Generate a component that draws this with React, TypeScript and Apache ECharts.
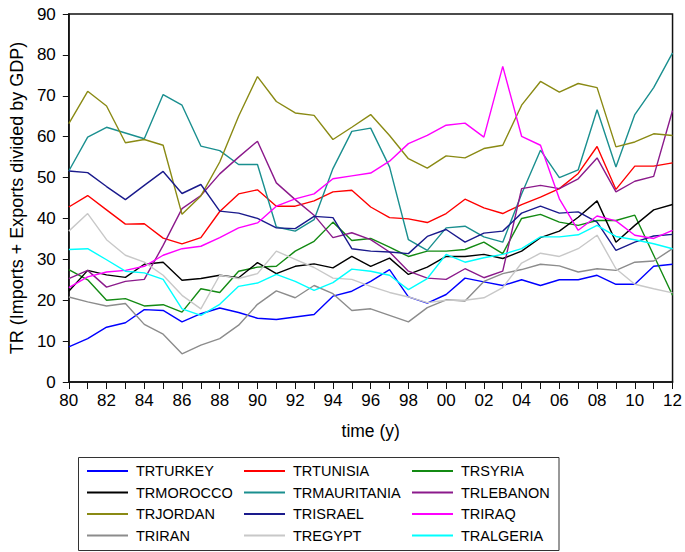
import React, { useEffect, useRef } from "react";
import * as echarts from "echarts";

const years = [
  "80","81","82","83","84","85","86","87","88","89","90","91","92","93","94","95","96","97","98","99",
  "00","01","02","03","04","05","06","07","08","09","10","11","12",
];

const trTurkey = [8.6,10.6,13.4,14.5,17.7,17.5,14.7,16.7,18.1,17.0,15.6,15.3,15.9,16.5,21.0,22.2,24.6,27.5,20.8,19.3,21.4,25.4,24.5,23.6,25.0,23.6,25.0,25.0,26.1,23.9,23.9,28.3,28.8];
const trTunisia = [42.8,45.6,42.1,38.6,38.7,35.2,33.8,35.3,41.7,46.0,47.0,43.0,43.0,44.3,46.5,46.9,42.8,40.2,39.9,39.0,41.2,44.7,42.6,41.2,43.4,45.2,47.3,51.0,57.6,47.1,52.8,52.8,53.6];
const trSyria = [27.5,25.0,20.0,20.4,18.6,18.9,17.1,22.8,21.9,27.1,28.1,28.3,32.0,34.4,39.1,34.6,35.1,33.0,30.7,32.0,32.0,32.4,34.2,31.4,40.0,41.0,39.1,38.3,39.5,39.5,40.8,31.0,21.2];
const trMorocco = [22.2,27.3,26.2,25.6,28.8,29.3,24.9,25.3,26.1,25.5,29.2,26.5,28.3,28.9,27.9,30.7,28.3,30.3,26.3,28.1,30.7,30.7,31.2,30.2,32.0,35.3,36.9,40.3,44.3,34.2,38.3,42.1,43.4];
const trMauritania = [51.6,59.9,62.3,60.9,59.5,70.3,67.7,57.7,56.6,53.2,53.2,37.9,36.9,39.7,52.2,61.3,62.1,52.6,34.8,32.2,37.7,38.1,35.5,34.2,46.0,56.7,50.0,51.9,66.6,52.6,65.4,72.0,80.5];
const trLebanon = [25.3,27.3,23.2,24.6,25.1,33.4,42.4,45.6,50.9,55.0,58.9,48.7,44.6,40.8,35.3,36.5,34.8,31.8,27.1,25.4,25.1,27.7,25.5,27.1,47.3,48.1,47.3,49.7,54.8,46.5,49.1,50.3,66.4];
const trJordan = [63.2,71.1,67.5,58.5,59.3,57.9,41.0,45.5,53.8,65.0,74.7,68.6,65.8,65.2,59.3,62.3,65.4,60.3,54.6,52.3,55.3,54.8,57.1,57.9,67.7,73.5,70.9,73.0,72.0,57.5,58.7,60.7,60.3];
const trIsrael = [51.6,51.2,47.8,44.6,48.1,51.5,46.1,48.3,41.8,41.3,40.0,37.7,37.5,40.5,40.2,32.6,32.0,31.8,31.4,35.6,37.3,34.2,36.4,36.9,41.3,43.0,41.3,41.6,39.1,32.2,34.2,35.7,36.1];
const trIraq = [23.1,25.7,26.9,27.3,28.3,31.0,32.6,33.2,35.3,37.7,38.9,43.0,44.8,46.0,49.7,50.4,51.1,54.0,58.3,60.3,62.8,63.3,59.9,77.2,60.1,57.9,44.8,37.1,40.6,39.4,35.9,35.1,37.1];
const trIran = [20.8,19.6,18.6,19.2,14.1,11.7,6.9,9.0,10.6,13.9,19.0,22.3,20.6,23.6,21.6,17.5,17.9,16.3,14.7,18.2,20.1,19.8,24.6,26.5,27.5,28.8,28.4,26.9,27.7,27.3,29.3,29.6,32.6];
const trEgypt = [36.9,41.2,34.8,31.0,29.3,26.1,21.2,17.9,26.1,25.3,26.5,32.0,30.0,28.0,25.4,25.1,23.4,21.9,20.8,19.4,20.0,20.0,20.6,23.1,29.1,31.5,30.7,32.6,35.9,27.7,23.9,22.8,21.8];
const trAlgeria = [32.4,32.6,29.9,27.1,26.7,25.1,17.9,16.3,19.0,23.4,24.2,26.3,24.6,22.4,24.3,27.6,27.1,26.1,22.6,25.3,31.2,29.3,30.4,31.2,32.6,35.5,35.5,36.0,38.3,35.6,34.8,33.8,32.6];

const seriesNames = [
  "TRTURKEY","TRTUNISIA","TRSYRIA","TRMOROCCO","TRMAURITANIA","TRLEBANON",
  "TRJORDAN","TRISRAEL","TRIRAQ","TRIRAN","TREGYPT","TRALGERIA",
];
const seriesData = [
  trTurkey, trTunisia, trSyria, trMorocco, trMauritania, trLebanon,
  trJordan, trIsrael, trIraq, trIran, trEgypt, trAlgeria,
];
const seriesColors = [
  "#0000ff","#ff0000","#138a13","#000000","#1a8f8f","#8b1a8b",
  "#8a8a14","#1a1a8c","#ff00ff","#8c8c8c","#c8c8c8","#00ffff",
];

const yTicks = [0, 10, 20, 30, 40, 50, 60, 70, 80, 90];

const FONT = "'Liberation Sans', Arial, sans-serif";

export default function App() {
  const ref = useRef<HTMLDivElement>(null);
  useEffect(() => {
    document.body.style.margin = "0";
    if (!ref.current) return;
    const chart = echarts.init(ref.current, undefined, { renderer: "svg" });
    const legendCol = (names: string[], left: number) => ({
      orient: "vertical",
      left,
      top: 463,
      height: 100,
      padding: 0,
      itemWidth: 41,
      itemHeight: 2,
      itemGap: 5.5,
      icon: "rect",
      selectedMode: false,
      data: names,
      textStyle: { fontSize: 14.5, fontFamily: FONT, color: "#000", lineHeight: 16, padding: [0, 0, 0, 3] },
    });
    chart.setOption({
      animation: false,
      backgroundColor: "#fff",
      grid: {
        left: 62,
        top: 14,
        width: 613,
        height: 368,
        show: true,
        borderColor: "#111",
        borderWidth: 1.5,
        backgroundColor: "transparent",
      },
      xAxis: {
        type: "category",
        data: years,
        boundaryGap: false,
        name: "time (y)",
        nameLocation: "middle",
        nameGap: 40,
        nameTextStyle: { fontSize: 17.5, fontFamily: FONT, color: "#000" },
        axisLine: { lineStyle: { color: "#111", width: 1.5 } },
        axisTick: { show: true, interval: 0, length: 7, lineStyle: { color: "#111", width: 1 } },
        axisLabel: { interval: 1, margin: 10, fontSize: 17, fontFamily: FONT, color: "#000" },
        splitLine: { show: false },
      },
      yAxis: {
        type: "value",
        min: yTicks[0],
        max: yTicks[yTicks.length - 1],
        interval: 10,
        name: "TR (Imports + Exports divided by GDP)",
        nameLocation: "middle",
        nameGap: 38,
        nameTextStyle: { fontSize: 18, fontFamily: FONT, color: "#000" },
        axisLine: { show: true, lineStyle: { color: "#111", width: 1.5 } },
        axisTick: { show: true, length: 6, lineStyle: { color: "#111", width: 1 } },
        axisLabel: { margin: 13, fontSize: 17, fontFamily: FONT, color: "#000" },
        splitLine: { show: false },
      },
      legend: [
        legendCol(["TRTURKEY", "TRMOROCCO", "TRJORDAN", "TRIRAN"], 87),
        legendCol(["TRTUNISIA", "TRMAURITANIA", "TRISRAEL", "TREGYPT"], 244),
        legendCol(["TRSYRIA", "TRLEBANON", "TRIRAQ", "TRALGERIA"], 412),
      ],
      graphic: [
        {
          type: "rect",
          shape: { x: 78.5, y: 457.5, width: 480.5, height: 93 },
          style: { fill: "none", stroke: "#333", lineWidth: 1 },
          silent: true,
        },
      ],
      series: seriesNames.map((name, i) => ({
        name,
        type: "line",
        data: seriesData[i],
        showSymbol: false,
        symbol: "none",
        lineStyle: { color: seriesColors[i], width: 1.4 },
        itemStyle: { color: seriesColors[i] },
        emphasis: { disabled: true },
      })),
    });
    return () => chart.dispose();
  }, []);
  return <div ref={ref} style={{ width: 685, height: 552 }} />;
}
